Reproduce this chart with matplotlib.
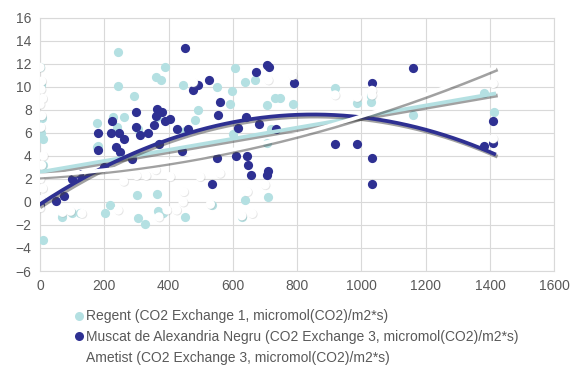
import numpy as np
import matplotlib
matplotlib.use("Agg")
from matplotlib import pyplot as plt
from matplotlib.lines import Line2D
import matplotlib.patheffects as pe

plt.rcParams['font.family'] = ['Liberation Sans', 'DejaVu Sans']

# series data (x = light, y = CO2 exchange)
regent_x = [0, 2, 5, 3, 8, 10, 10, 68, 100, 125, 178, 178, 202, 218, 228, 243, 243, 260, 292,
            302, 305, 327, 361, 363, 368, 377, 384, 390, 446, 451, 483, 492, 535, 551, 591,
            597, 607, 628, 638, 638, 670, 706, 706, 710, 731, 747, 787, 918, 987, 1031, 1031,
            1161, 1380, 1413, 240, 305, 365, 450, 180, 600, 720]
regent_y = [11.7, 10.2, 7.3, 6.0, 5.5, 3.2, -3.3, -1.3, -1.0, -1.0, 6.9, 4.8, -1.0, -0.3, 7.4,
            13.0, 10.1, 7.4, 9.2, 0.6, -1.4, -1.9, 10.9, 0.7, -0.8, 10.6, -1.0, 11.7, 10.2, -1.3,
            7.1, 8.0, -0.3, 10.0, 8.5, 9.6, 11.6, -1.3, 10.4, 0.2, 10.6, 8.4, 5.1, 0.4, 9.0,
            9.0, 8.5, 9.9, 8.6, 8.7, 9.2, 7.6, 9.5, 7.8, 6.5, 6.3, 7.4, 6.2, 4.9, 5.9, 6.3]

muscat_x = [0, 50, 75, 100, 120, 180, 180, 200, 220, 225, 235, 245, 250, 260, 285, 300, 300,
            310, 335, 355, 360, 365, 370, 380, 390, 405, 425, 442, 450, 460, 475, 490, 525,
            535, 550, 555, 560, 615, 610, 641, 645, 647, 656, 672, 680, 707, 712, 707, 710,
            735, 790, 918, 985, 1033, 1033, 1033, 1160, 1380, 1410, 1410]
muscat_y = [-0.3, 0.1, 0.5, 2.0, 2.4, 6.0, 4.5, 3.0, 6.0, 7.0, 4.8, 6.0, 4.3, 5.5, 3.7, 6.5,
            7.8, 5.8, 6.0, 6.7, 7.5, 8.1, 5.0, 7.8, 7.0, 7.2, 6.3, 4.4, 13.4, 6.3, 9.7, 10.2,
            10.6, 1.6, 3.8, 7.6, 8.7, 6.4, 4.0, 7.4, 4.0, 3.2, 2.3, 11.3, 6.8, 11.9, 11.7, 2.3,
            2.7, 6.3, 10.3, 5.0, 5.0, 10.3, 3.8, 1.6, 11.6, 4.9, 7.0, 5.1]

ametist_x = [0, 5, 3, 8, 0, 5, 2, 10, 5, 0, 8, 3, 0, 70, 95, 130, 110, 243, 260, 300, 330,
             360, 370, 395, 405, 425, 445, 447, 477, 498, 530, 560, 628, 645, 660, 700, 710,
             785, 918, 987, 1033, 1033, 1410, 1410]
ametist_y = [11.7, 10.5, 9.8, 9.0, 8.5, 7.5, 6.5, 4.0, 3.2, 2.0, 1.2, 0.2, -0.5, -0.9, -0.8,
             -1.0, 2.6, -0.7, 1.8, 2.3, 2.3, 2.8, -1.3, -0.7, 2.2, -0.7, 0.0, 0.9, 10.4, 2.2,
             -0.2, 2.5, -1.2, 0.9, -1.0, 1.5, 10.6, 11.0, 9.3, 9.1, 9.7, 9.3, 10.3, 5.5]

# trend line coefficients (highest power first)
regent_trend = [0.00482, 2.6]
muscat_trend = [-1.08e-5, 0.01836, -0.2]
ametist_trend = [3.52e-6, 0.00163, 2.3]

labels = ["Regent (CO2 Exchange 1, micromol(CO2)/m2*s)",
          "Muscat de Alexandria Negru (CO2 Exchange 3, micromol(CO2)/m2*s)",
          "Ametist (CO2 Exchange 3, micromol(CO2)/m2*s)"]

c_regent = "#B4E0E2"
c_muscat = "#2E3092"
c_ametist = "#FFFFFF"
grey = "#595959"

fig = plt.figure(figsize=(5.72, 3.72), dpi=100)
ax = fig.add_axes([0.070, 0.2715, 0.899, 0.6805])

ms = 44
ax.scatter(regent_x, regent_y, s=ms, color=c_regent, linewidths=0, zorder=3)
ax.scatter(muscat_x, muscat_y, s=ms, color=c_muscat, linewidths=0, zorder=4)
ax.scatter(ametist_x, ametist_y, s=ms, color=c_ametist, linewidths=0, zorder=5,
           path_effects=[pe.SimplePatchShadow(offset=(0.6, -0.6), shadow_rgbFace="#999999", alpha=0.25),
                         pe.Normal()])

xs = np.linspace(0, 1413, 200)
shadow = [pe.SimpleLineShadow(offset=(1.2, -1.5), shadow_color="#444444", alpha=0.5), pe.Normal()]
ax.plot(xs, np.polyval(regent_trend, xs), color=c_regent, lw=2.7, zorder=6, path_effects=shadow)
ax.plot(xs, np.polyval(muscat_trend, xs), color=c_muscat, lw=2.7, zorder=7, path_effects=shadow)
ax.plot(xs, np.polyval(ametist_trend, xs), color=c_ametist, lw=2.7, zorder=8, path_effects=shadow)

ax.set_xlim(0, 1600)
ax.set_ylim(-6, 16)
ax.set_xticks(np.arange(0, 1601, 200))
ax.set_yticks(np.arange(-6, 17, 2))
ax.grid(True, color="#D9D9D9", lw=0.8)
ax.set_axisbelow(True)
for s in ax.spines.values():
    s.set_color("#D9D9D9")
    s.set_linewidth(0.8)
ax.tick_params(length=0, colors=grey, labelsize=10, pad=6)

handles = [Line2D([], [], ls="none", marker="o", ms=6.5, mec="none", mfc=c) for c in (c_regent, c_muscat, c_ametist)]
fig.legend(handles=handles, labels=labels, loc="upper left", bbox_to_anchor=(0.118, 0.187),
           frameon=False, fontsize=10, labelcolor=grey, handlelength=0.6,
           handletextpad=0.2, labelspacing=0.5, borderpad=0)

fig.savefig("out.png", dpi=100)
